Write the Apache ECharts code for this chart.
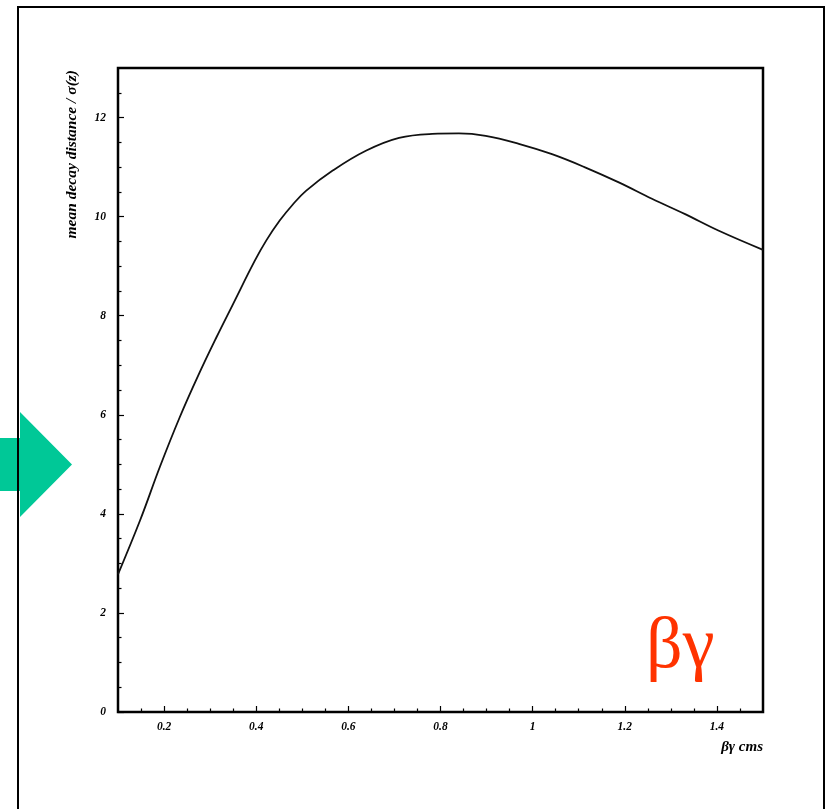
<!DOCTYPE html>
<html>
<head>
<meta charset="utf-8">
<script src="https://cdn.jsdelivr.net/npm/echarts@6/dist/echarts.min.js"></script>
<style>
  html, body { margin: 0; padding: 0; background: #fff; }
  #chart { width: 827px; height: 809px; }
</style>
</head>
<body>
<div id="chart"></div>
<script>
// mean decay distance / sigma(z) vs beta*gamma
var betaGamma = [0.100, 0.148, 0.191, 0.234, 0.274, 0.314, 0.350, 0.397, 0.422, 0.451,
                 0.479, 0.508, 0.566, 0.638, 0.710, 0.782, 0.840, 0.898, 0.970, 1.042,
                 1.115, 1.187, 1.259, 1.331, 1.403, 1.500];
var decayRatio = [2.78, 3.87, 4.95, 5.95, 6.79, 7.57, 8.24, 9.11, 9.52, 9.92,
                  10.24, 10.52, 10.93, 11.33, 11.59, 11.67, 11.68, 11.63, 11.47, 11.26,
                  10.99, 10.69, 10.36, 10.05, 9.72, 9.33];

var xMajor = [0.2, 0.4, 0.6, 0.8, 1.0, 1.2, 1.4];
var xMinor = [0.15, 0.25, 0.3, 0.35, 0.45, 0.5, 0.55, 0.65, 0.7, 0.75, 0.85, 0.9, 0.95,
              1.05, 1.1, 1.15, 1.25, 1.3, 1.35, 1.45];
var yMajor = [0, 2, 4, 6, 8, 10, 12];
var yMinor = [0.5, 1, 1.5, 2.5, 3, 3.5, 4.5, 5, 5.5, 6.5, 7, 7.5, 8.5, 9, 9.5,
              10.5, 11, 11.5, 12.5];

var labelFont = {
    fontFamily: 'Liberation Serif',
    fontStyle: 'italic',
    fontWeight: 'bold',
    fontSize: 11.5,
    color: '#000'
};

var chart = echarts.init(document.getElementById('chart'));

var option = {
    backgroundColor: '#fff',
    animation: false,
    grid: {
        left: 118, top: 68, right: 64, bottom: 97,
        show: true,
        borderColor: '#000',
        borderWidth: 2.5
    },
    xAxis: [
        {
            type: 'value', min: 0.1, max: 1.5,
            axisLine: { show: true, lineStyle: { color: '#000', width: 2 } },
            axisTick: { show: true, inside: true, length: 6, customValues: xMajor,
                        lineStyle: { color: '#000', width: 1.2 } },
            axisLabel: Object.assign({ customValues: xMajor, margin: 9,
                formatter: function (v) { return String(Math.round(v * 10) / 10); } }, labelFont),
            splitLine: { show: false }
        },
        {
            type: 'value', min: 0.1, max: 1.5, position: 'bottom',
            axisLine: { show: false },
            axisTick: { show: true, inside: true, length: 3.5, customValues: xMinor,
                        lineStyle: { color: '#000', width: 1.2 } },
            axisLabel: { show: false },
            splitLine: { show: false }
        }
    ],
    yAxis: [
        {
            type: 'value', min: 0, max: 13,
            axisLine: { show: true, lineStyle: { color: '#000', width: 2 } },
            axisTick: { show: true, inside: true, length: 6, customValues: yMajor,
                        lineStyle: { color: '#000', width: 1.2 } },
            axisLabel: Object.assign({ customValues: yMajor, margin: 12 }, labelFont),
            splitLine: { show: false }
        },
        {
            type: 'value', min: 0, max: 13, position: 'left',
            axisLine: { show: false },
            axisTick: { show: true, inside: true, length: 3.5, customValues: yMinor,
                        lineStyle: { color: '#000', width: 1.2 } },
            axisLabel: { show: false },
            splitLine: { show: false }
        }
    ],
    series: [
        {
            type: 'line',
            xAxisIndex: 0,
            yAxisIndex: 0,
            data: betaGamma.map(function (x, i) { return [x, decayRatio[i]]; }),
            smooth: 0.4,
            showSymbol: false,
            lineStyle: { color: '#111', width: 1.8 }
        }
    ],
    graphic: [
        {
            type: 'polygon',
            z: 1,
            shape: { points: [[0, 438], [20, 438], [20, 412], [72, 464.5], [20, 517], [20, 491], [0, 491]] },
            style: { fill: '#00C897' }
        },
        {
            type: 'rect',
            z: 2,
            shape: { x: 18, y: 7, width: 806, height: 830 },
            style: { fill: null, stroke: '#000', lineWidth: 2 }
        },
        {
            type: 'text',
            z: 3,
            x: 72, y: 70,
            rotation: Math.PI / 2,
            style: {
                text: 'mean decay distance / σ(z)',
                fontFamily: 'Liberation Serif',
                fontStyle: 'italic',
                fontWeight: 'bold',
                fontSize: 15.5,
                fill: '#000',
                align: 'right',
                verticalAlign: 'middle'
            }
        },
        {
            type: 'text',
            z: 3,
            x: 763, y: 747,
            style: {
                text: 'βγ cms',
                fontFamily: 'Liberation Serif',
                fontStyle: 'italic',
                fontWeight: 'bold',
                fontSize: 15,
                fill: '#000',
                align: 'right',
                verticalAlign: 'middle'
            }
        },
        {
            type: 'text',
            z: 3,
            x: 646, y: 612,
            style: {
                text: 'βγ',
                fontFamily: 'Liberation Serif',
                fontSize: 72,
                fill: '#FF3300',
                align: 'left',
                verticalAlign: 'top'
            }
        }
    ]
};

chart.setOption(option);
</script>
</body>
</html>
